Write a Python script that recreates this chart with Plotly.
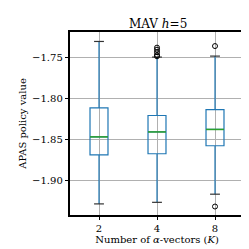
import plotly.graph_objects as go

categories = ["2", "4", "8"]
positions = [1, 2, 3]
q1 = [-1.869, -1.8675, -1.8578]
median = [-1.847, -1.841, -1.838]
q3 = [-1.8118, -1.821, -1.8138]
lower = [-1.9285, -1.9266, -1.9167]
upper = [-1.731, -1.750, -1.7488]
outlier_x = [2, 2, 2, 2, 2, 3, 3]
outlier_y = [-1.7385, -1.741, -1.744, -1.7475, -1.749, -1.7366, -1.9317]

BLUE = "#1f77b4"
GREEN = "#2ca02c"
FONT = "'DejaVu Serif', serif"
half_box = 0.155
half_cap = 0.085

fig = go.Figure()
fig.add_trace(go.Box(
    x=positions, q1=q1, median=median, q3=q3,
    lowerfence=lower, upperfence=upper,
    width=2 * half_box, whiskerwidth=0,
    line=dict(color=BLUE, width=1.2),
    fillcolor="rgba(0,0,0,0)", boxpoints=False, hoverinfo="skip",
    showlegend=False,
))

cx, cy = [], []
for p, lo, hi in zip(positions, lower, upper):
    cx += [p - half_cap, p + half_cap, None, p - half_cap, p + half_cap, None]
    cy += [lo, lo, None, hi, hi, None]
fig.add_trace(go.Scatter(x=cx, y=cy, mode="lines",
                         line=dict(color="#333333", width=1.2),
                         showlegend=False, hoverinfo="skip"))

mx, my = [], []
for p, m in zip(positions, median):
    mx += [p - half_box, p + half_box, None]
    my += [m, m, None]
fig.add_trace(go.Scatter(x=mx, y=my, mode="lines",
                         line=dict(color=GREEN, width=1.5),
                         showlegend=False, hoverinfo="skip"))

fig.add_trace(go.Scatter(x=outlier_x, y=outlier_y, mode="markers",
                         marker=dict(symbol="circle-open", size=5,
                                     color="black", line=dict(width=1)),
                         showlegend=False, hoverinfo="skip"))

fig.update_layout(
    width=249, height=249,
    margin=dict(l=62, r=11, t=24, b=42),
    paper_bgcolor="white", plot_bgcolor="white",
    font=dict(family=FONT, size=10, color="black"),
    title=dict(text="MAV <i>h</i>=5", x=0.603, xanchor="center",
               y=0.935, yanchor="middle", font=dict(size=12, family=FONT)),
    xaxis=dict(
        range=[0.5, 3.5], tickvals=positions, ticktext=categories,
        showgrid=True, gridcolor="#b0b0b0", gridwidth=0.8,
        showline=True, linecolor="black", linewidth=1.5, mirror=True,
        ticks="outside", ticklen=3.5, tickcolor="black", zeroline=False,
        title=dict(text="Number of <i>α</i>-vectors (<i>K</i>)",
                   font=dict(size=10, family=FONT), standoff=2),
        tickfont=dict(size=10, family=FONT),
    ),
    yaxis=dict(
        range=[-1.942, -1.7195], tickvals=[-1.90, -1.85, -1.80, -1.75],
        tickformat=".2f",
        showgrid=True, gridcolor="#b0b0b0", gridwidth=0.8,
        showline=True, linecolor="black", linewidth=1.5, mirror=True,
        ticks="outside", ticklen=3.5, tickcolor="black", zeroline=False,
        title=dict(text="APAS policy value", font=dict(size=10, family=FONT),
                   standoff=4),
        tickfont=dict(size=10, family=FONT),
    ),
)

fig.write_html("out.html")
